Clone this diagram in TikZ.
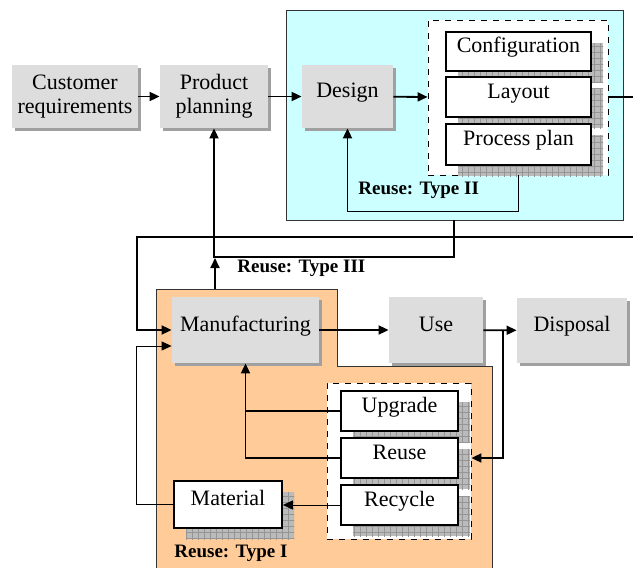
\documentclass[tikz,border=0pt]{standalone}
\usepackage{fontspec}
\setmainfont{Liberation Serif}
\usetikzlibrary{arrows.meta,shadows,patterns}

\definecolor{blockgray}{HTML}{DDDDDD}
\definecolor{shadegray}{HTML}{A0A0A0}
\definecolor{gridgray}{HTML}{BBBBBB}
\definecolor{gridline}{HTML}{959595}
\definecolor{designcyan}{HTML}{CCFFFF}
\definecolor{makeorange}{HTML}{FFCC99}

\tikzset{
  grayblock/.style={fill=blockgray, align=center, inner sep=0pt,
    font=\fontsize{11}{12}\selectfont,
    drop shadow={shadow xshift=1.5pt, shadow yshift=-1.5pt, fill=shadegray, opacity=1}},
  itemblock/.style={draw, line width=0.9pt, fill=white, inner sep=0pt,
    font=\fontsize{11}{12}\selectfont, raised,
    general shadow={shadow xshift=6pt, shadow yshift=-5.5pt, fill=gridgray},
    general shadow={shadow xshift=6pt, shadow yshift=-5.5pt, pattern=grid, pattern color=gridline}},
  raised/.style={text height=7pt, text depth=6pt},
  groupbox/.style={draw, dashed, fill=white, inner sep=0pt},
  flow/.style={line width=0.9pt, -{Triangle[length=5pt,width=4.5pt]}},
  thinflow/.style={line width=0.5pt, -{Triangle[length=5pt,width=4.5pt]}},
  reuselabel/.style={font=\bfseries\fontsize{9.5}{11}\selectfont, anchor=west, inner sep=0pt},
}

\begin{document}
\begin{tikzpicture}[x=0.5pt, y=-0.5pt]
  \useasboundingbox (0,0) rectangle (633,568);

  % 设计区域与制造区域
  \node[draw=black!80, fill=designcyan, minimum width=168.5pt, minimum height=105pt,
    inner sep=0pt] (designarea) at (454.5,115) {};
  \fill[makeorange] (156,572) -- (156,289) -- (337,289) -- (337,366) -- (492,366) -- (492,572);
  \draw[black!80] (156,572) -- (156,289) -- (337,289) -- (337,366) -- (492,366) -- (492,572);

  % 虚线框
  \node[groupbox, minimum width=90pt, minimum height=77.5pt] (dtop) at (518,97.5) {};
  \node[groupbox, minimum width=72pt, minimum height=78pt] (dbot) at (399,461) {};

  % 灰色方框
  \node[grayblock, minimum width=63pt, minimum height=31.5pt] (cust) at (75,96.5) {Customer\\requirements};
  \node[grayblock, minimum width=54pt, minimum height=31.5pt] (plan) at (214,96.5) {Product\\planning};
  \node[grayblock, raised, minimum width=45.5pt, minimum height=31.5pt] (design) at (347.5,96.5) {Design};
  \node[grayblock, raised, minimum width=73.5pt, minimum height=33pt] (manu) at (245.5,330) {Manufacturing};
  \node[grayblock, raised, minimum width=47pt, minimum height=33pt] (use) at (436,330) {Use};
  \node[grayblock, raised, minimum width=55pt, minimum height=32.5pt] (disp) at (572,330.5) {Disposal};

  % 白色方框
  \node[itemblock, minimum width=72.5pt, minimum height=19.5pt] (conf) at (518.5,51.5) {Configuration};
  \node[itemblock, minimum width=72.5pt, minimum height=20pt] (layout) at (518.5,97) {Layout};
  \node[itemblock, minimum width=72.5pt, minimum height=20.5pt] (proc) at (518.5,144.5) {Process plan};
  \node[itemblock, minimum width=58.5pt, minimum height=20pt] (upg) at (399.5,411) {Upgrade};
  \node[itemblock, minimum width=58.5pt, minimum height=20pt] (reuse) at (399.5,458) {Reuse};
  \node[itemblock, minimum width=58.5pt, minimum height=20pt] (recyc) at (399.5,505) {Recycle};
  \node[itemblock, minimum width=54pt, minimum height=23.5pt] (mat) at (228,504.5) {Material};

  % 端点
  \coordinate (out1) at (633,97);
  \coordinate (in1) at (633,237);
  \coordinate (c3) at (454,220);
  \coordinate (o3) at (215,289);
  \coordinate (j) at (503,330);

  % 主流程
  \draw[flow] (cust) -- (plan);
  \draw[flow] (plan) -- (design);
  \draw[flow] (design) -- (dtop);
  \draw[line width=0.9pt] (dtop.east |- out1) -- (out1);
  \draw[flow] (manu) -- (use);
  \draw[flow] (use) -- (disp);

  % 重用回路
  \draw[flow] (dtop.south -| proc) -- ++(0,36) -| (design.south);
  \draw[flow] (c3) -- ++(0,37) -| (plan.south);
  \draw[flow] (o3) -- ++(0,-31);
  \draw[flow] (in1) -- (137,237) |- (manu.west);
  \draw[flow] (j) |- (reuse -| dbot.east);
  \draw[line width=0.9pt] (upg.west) -- (upg.west -| manu.south);
  \draw[flow] (reuse.west) -| (manu.south);
  \draw[thinflow] (recyc.west) -- (recyc.west -| mat.east);
  \draw[thinflow] (mat.west) -- ++(-37,0) |- ([yshift=-8pt]manu.west);

  % 标签
  \node[reuselabel] (t2) at (358,190) {Reuse: Type II};
  \node[reuselabel] (t3) at (237,268) {Reuse: Type III};
  \node[reuselabel] (t1) at (174,553) {Reuse: Type I};
\end{tikzpicture}
\end{document}
